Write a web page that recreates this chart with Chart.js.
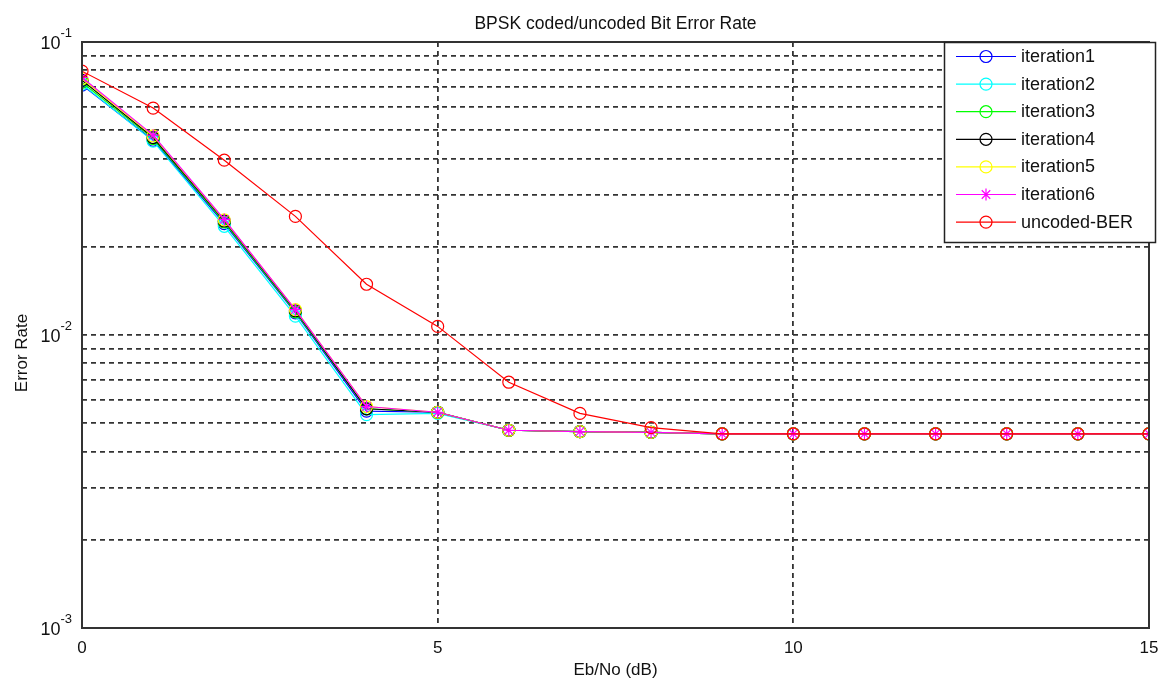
<!DOCTYPE html>
<html>
<head>
<meta charset="utf-8">
<script src="https://cdn.jsdelivr.net/npm/chart.js@4/dist/chart.umd.min.js"></script>
<style>
  html, body { margin: 0; padding: 0; background: #fff; }
  #wrap { width: 1166px; height: 684px; position: relative; }
</style>
</head>
<body>
<div id="wrap"><canvas id="ber"></canvas></div>
<script>
// values
const ebno = [0, 1, 2, 3, 4, 5, 6, 7, 8, 9, 10, 11, 12, 13, 14, 15]
const flat = [0.0046, 0.0046, 0.0046, 0.0046, 0.0046, 0.0046, 0.0046]

const iter1 = [0.0713, 0.0462, 0.0240, 0.0119, 0.0055, 0.00545, 0.00473, 0.00468, 0.00465, ...flat]
const iter2 = [0.0718, 0.0459, 0.0235, 0.0116, 0.00535, 0.0054, 0.00473, 0.00468, 0.00465, ...flat]
const iter3 = [0.0728, 0.0468, 0.0243, 0.0120, 0.0056, 0.00545, 0.00473, 0.00468, 0.00465, ...flat]
const iter4 = [0.0740, 0.0472, 0.0245, 0.0121, 0.0056, 0.00545, 0.00473, 0.00468, 0.00465, ...flat]
const iter5 = [0.0750, 0.0478, 0.0247, 0.0122, 0.0057, 0.00545, 0.00473, 0.00468, 0.00465, ...flat]
const iter6 = [0.0757, 0.0481, 0.0248, 0.0122, 0.0057, 0.00545, 0.00473, 0.00468, 0.00465, ...flat]
const uncoded = [0.0795, 0.0595, 0.0395, 0.0254, 0.0149, 0.0107, 0.0069, 0.0054, 0.00483, ...flat]

const yTicks = [0.001, 0.002, 0.003, 0.004, 0.005, 0.006, 0.007, 0.008, 0.009,
                0.01, 0.02, 0.03, 0.04, 0.05, 0.06, 0.07, 0.08, 0.09, 0.1]
const yDecades = [{ v: 0.1, exp: '-1' }, { v: 0.01, exp: '-2' }, { v: 0.001, exp: '-3' }]
const xTicks = [0, 5, 10, 15]

const FONT = "Arial, 'Liberation Sans', sans-serif"

const series = [
  { label: 'iteration1', data: iter1, color: '#0000ff', style: 'circle' },
  { label: 'iteration2', data: iter2, color: '#00ffff', style: 'circle' },
  { label: 'iteration3', data: iter3, color: '#00ff00', style: 'circle' },
  { label: 'iteration4', data: iter4, color: '#000000', style: 'circle' },
  { label: 'iteration5', data: iter5, color: '#ffff00', style: 'circle' },
  { label: 'iteration6', data: iter6, color: '#ff00ff', style: 'star' },
  { label: 'uncoded-BER', data: uncoded, color: '#ff0000', style: 'circle' },
]

const datasets = series.map((s, i) => ({
  label: s.label,
  data: s.data.map((v, k) => ({ x: ebno[k], y: v })),
  borderColor: s.color,
  backgroundColor: 'rgba(0,0,0,0)',
  pointBorderColor: s.color,
  pointBackgroundColor: 'rgba(0,0,0,0)',
  pointStyle: s.style,
  pointRadius: 6,
  pointBorderWidth: 1.2,
  borderWidth: 1.2,
  tension: 0,
  order: series.length - i, // later series on top, like MATLAB
}))

// frame, labels, title and legend drawn by hand
const decor = {
  id: 'decor',
  afterDraw(chart) {
    const { ctx, chartArea: a, scales } = chart
    ctx.save()
    ctx.strokeStyle = '#333'
    ctx.lineWidth = 2
    ctx.strokeRect(a.left, a.top, a.right - a.left, a.bottom - a.top)

    ctx.fillStyle = '#111'
    ctx.textBaseline = 'alphabetic'
    // y decade labels with superscript
    yDecades.forEach(d => {
      const y = scales.y.getPixelForValue(d.v)
      ctx.font = '13px ' + FONT
      ctx.textAlign = 'right'
      ctx.fillText(d.exp, a.left - 10, y - 5)
      const ew = ctx.measureText(d.exp).width
      ctx.font = '18px ' + FONT
      ctx.fillText('10', a.left - 10 - ew, y + 7)
    })
    // x tick labels
    ctx.font = '17px ' + FONT
    ctx.textAlign = 'center'
    xTicks.forEach(t => ctx.fillText(String(t), scales.x.getPixelForValue(t), a.bottom + 25))

    ctx.fillText('Eb/No (dB)', (a.left + a.right) / 2, 675)
    ctx.font = '17.5px ' + FONT
    ctx.fillText('BPSK coded/uncoded Bit Error Rate', (a.left + a.right) / 2, 29)

    ctx.font = '17px ' + FONT
    ctx.save()
    ctx.translate(27, 353)
    ctx.rotate(-Math.PI / 2)
    ctx.fillText('Error Rate', 0, 0)
    ctx.restore()

    // legend box
    const lx = 944, ly = 42, lw = 211, lh = 200
    ctx.fillStyle = '#fff'
    ctx.fillRect(lx, ly, lw, lh)
    ctx.strokeStyle = '#222'
    ctx.lineWidth = 1.5
    ctx.strokeRect(lx + 0.5, ly + 0.5, lw, lh)
    series.forEach((s, i) => {
      const y = ly + 14 + i * 27.6
      ctx.strokeStyle = s.color
      ctx.lineWidth = 1.2
      ctx.beginPath()
      ctx.moveTo(lx + 12, y + 0.5)
      ctx.lineTo(lx + 72, y + 0.5)
      ctx.stroke()
      ctx.fillStyle = 'rgba(0,0,0,0)'
      Chart.helpers.drawPoint(ctx, { pointStyle: s.style, radius: 6, borderWidth: 1.2 }, lx + 42, y + 0.5)
      ctx.fillStyle = '#111'
      ctx.font = '18px ' + FONT
      ctx.textAlign = 'left'
      ctx.textBaseline = 'middle'
      ctx.fillText(s.label, lx + 77, y + 1)
    })
    ctx.restore()
  },
}

new Chart(document.getElementById('ber'), {
  type: 'line',
  data: { datasets },
  options: {
    responsive: true,
    maintainAspectRatio: false,
    animation: false,
    layout: { padding: { top: 42, right: 17, left: 0, bottom: 0 } },
    plugins: { legend: { display: false }, tooltip: { enabled: false }, title: { display: false } },
    scales: {
      x: {
        type: 'linear',
        min: 0,
        max: 15,
        afterBuildTicks: s => { s.ticks = xTicks.map(v => ({ value: v })) },
        afterFit: s => { s.height = 56 },
        ticks: { display: false },
        border: { display: false, dash: [5, 4] },
        grid: { color: '#333', lineWidth: 1.8, drawTicks: false },
      },
      y: {
        type: 'logarithmic',
        min: 0.001,
        max: 0.1,
        afterBuildTicks: s => { s.ticks = yTicks.map(v => ({ value: v })) },
        afterFit: s => { s.width = 82 },
        ticks: { display: false },
        border: { display: false, dash: [5, 4] },
        grid: { color: '#333', lineWidth: 1.8, drawTicks: false },
      },
    },
  },
  plugins: [decor],
})
</script>
</body>
</html>
